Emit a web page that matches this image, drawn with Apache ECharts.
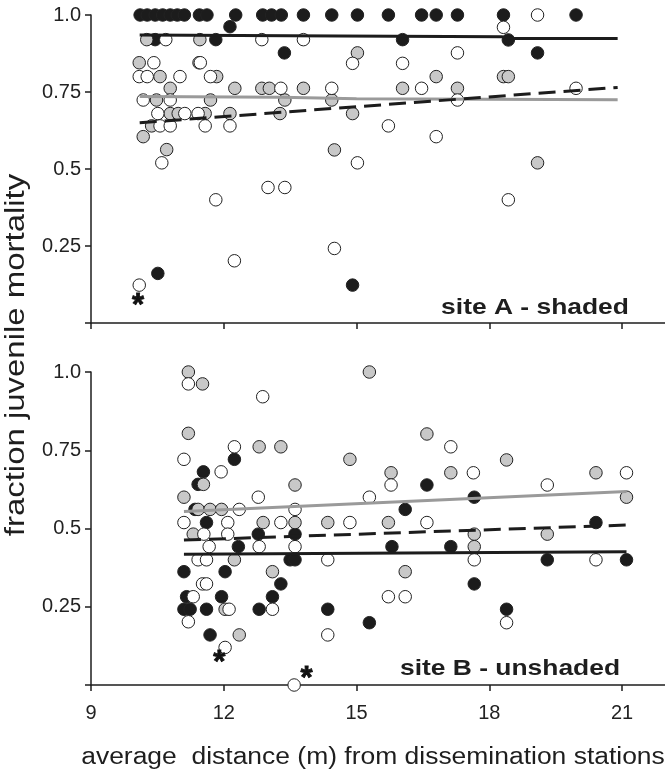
<!DOCTYPE html>
<html><head><meta charset="utf-8">
<script src="https://cdn.jsdelivr.net/npm/echarts@6/dist/echarts.min.js"></script>
<style>html,body{margin:0;padding:0;background:#fff}#c{width:665px;height:773px}</style>
</head><body><div id="c"></div>
<script>
// ---------- data (x = average distance, y = fraction juvenile mortality) ----------
const xTickValues = [9, 12, 15, 18, 21];
const yTickText = {0: '', 0.25: '0.25', 0.5: '0.5', 0.75: '0.75', 1: '1.0'};

// site A (shaded)
const topBlack = [
  [10.11,1],[10.27,1],[10.45,1],[10.62,1],[10.79,1],[10.95,1],[11.11,1],[11.45,1],[11.62,1],
  [12.27,1],[12.88,1],[13.08,1],[13.3,1],[13.8,1],[14.44,1],[15.02,1],[15.72,1],[16.47,1],
  [16.8,1],[17.28,1],[18.32,1],[19.96,1],
  [12.14,0.962],[10.45,0.92],[11.82,0.92],[13.37,0.877],[16.04,0.92],[18.43,0.919],
  [19.09,0.877],[10.51,0.161],[14.91,0.123]
];
const topGray = [
  [10.26,0.92],[11.46,0.92],[10.09,0.845],[11.44,0.845],[10.56,0.80],[11.84,0.80],[10.79,0.762],
  [12.25,0.762],[12.86,0.762],[13.03,0.762],[10.48,0.724],[11.70,0.724],[13.38,0.724],[10.79,0.68],
  [10.97,0.68],[11.58,0.68],[12.14,0.68],[13.27,0.68],[10.37,0.64],[10.18,0.605],[10.71,0.563],
  [15.02,0.877],[16.8,0.80],[13.8,0.762],[16.04,0.762],[17.28,0.762],[14.44,0.724],[14.91,0.68],
  [14.5,0.562],[18.32,0.80],[18.43,0.80],[19.09,0.52]
];
const topOpen = [
  [10.69,0.92],[12.86,0.92],[10.42,0.845],[11.47,0.845],[10.09,0.80],[10.27,0.80],[11.01,0.80],
  [11.70,0.80],[13.29,0.762],[10.18,0.724],[10.79,0.724],[10.51,0.68],[11.12,0.68],[11.42,0.68],
  [10.56,0.64],[10.79,0.64],[11.58,0.64],[12.14,0.64],[10.6,0.52],[13.8,0.92],[14.91,0.843],
  [16.04,0.843],[17.28,0.877],[14.44,0.762],[16.47,0.762],[17.28,0.724],[15.72,0.64],[16.8,0.605],
  [15.02,0.52],[18.32,0.96],[19.09,1.0],[19.96,0.762],[11.82,0.40],[13.0,0.44],[13.38,0.44],
  [12.24,0.202],[14.5,0.242],[10.09,0.123],[18.43,0.40]
];
const topBlackFit = [[10.1,0.935],[14.6,0.932],[18.3,0.929],[18.5,0.924],[20.9,0.924]];
const topGrayFit  = [[10.1,0.735],[13.3,0.733],[15.0,0.728],[20.9,0.725]];
const topOpenFit  = [[10.1,0.650],[20.9,0.765]];
const topStars    = [[10.06,0.075]];

// site B (unshaded)
const botBlack = [
  [12.24,0.721],[11.54,0.681],[11.42,0.641],[11.35,0.561],[11.61,0.519],[16.59,0.639],[17.66,0.60],
  [16.1,0.561],[20.41,0.519],[12.78,0.482],[12.33,0.442],[13.5,0.40],[11.1,0.362],[12.03,0.362],
  [13.29,0.323],[11.16,0.282],[11.95,0.282],[13.1,0.282],[11.1,0.242],[11.24,0.242],[11.61,0.242],
  [12.8,0.242],[11.69,0.16],[13.61,0.482],[15.8,0.442],[17.13,0.442],[13.61,0.40],[19.31,0.40],
  [21.1,0.40],[17.66,0.323],[14.35,0.242],[18.39,0.242],[15.29,0.199]
];
const botGray = [
  [11.2,1.0],[11.52,0.962],[11.2,0.804],[12.8,0.761],[13.29,0.761],[11.54,0.641],[11.1,0.60],
  [11.42,0.561],[11.69,0.561],[11.95,0.561],[12.89,0.519],[15.29,1.0],[16.59,0.802],[14.85,0.721],
  [15.78,0.678],[17.13,0.678],[13.61,0.639],[13.61,0.519],[14.35,0.519],[15.72,0.519],[18.39,0.719],
  [20.41,0.678],[21.1,0.60],[11.31,0.482],[12.24,0.40],[13.1,0.362],[12.03,0.242],[12.35,0.16],
  [17.66,0.482],[19.31,0.482],[17.66,0.442],[16.1,0.362]
];
const botOpen = [
  [11.2,0.962],[12.88,0.921],[12.24,0.761],[11.1,0.721],[11.94,0.681],[12.78,0.60],[12.35,0.561],
  [11.1,0.519],[12.09,0.519],[13.29,0.519],[17.13,0.761],[17.64,0.678],[15.78,0.639],[15.29,0.60],
  [13.61,0.561],[14.85,0.519],[16.59,0.519],[19.31,0.639],[21.1,0.678],[11.55,0.482],[12.09,0.482],
  [11.67,0.442],[12.8,0.442],[11.42,0.40],[11.61,0.40],[11.52,0.323],[11.61,0.323],[11.31,0.282],
  [12.12,0.242],[13.1,0.242],[11.2,0.202],[12.03,0.12],[13.61,0.442],[14.35,0.40],[17.66,0.40],
  [20.41,0.40],[15.72,0.282],[16.1,0.282],[18.39,0.199],[14.35,0.16],[13.59,0.0]
];
const botBlackFit = [[11.1,0.418],[21.1,0.426]];
const botGrayFit  = [[11.1,0.554],[21.1,0.618]];
const botOpenFit  = [[11.1,0.463],[21.1,0.511]];
const botStars    = [[11.9,0.09],[13.87,0.039]];

const panelTitles = ['site A - shaded', 'site B - unshaded'];
const xName = 'average  distance (m) from dissemination stations';
const yName = 'fraction juvenile mortality';

// ---------- chart ----------
const FONT = "'Liberation Sans', Arial, Helvetica, sans-serif";
const AX = '#1e1e1e';
const chart = echarts.init(document.getElementById('c'), null, {renderer: 'canvas'});

function xAxisCfg(gi, showLabels) {
  return {
    type: 'value', gridIndex: gi, min: 9, max: 21.97, interval: 3,
    axisLine: {onZero: false, lineStyle: {color: AX, width: 1.5}},
    axisTick: {show: true, length: 6, inside: false, lineStyle: {color: AX, width: 1.5},
      customValues: xTickValues},
    axisLabel: {show: showLabels, color: '#222', fontSize: 20, fontFamily: FONT, margin: 18,
      customValues: xTickValues, formatter: v => String(v)},
    splitLine: {show: false}
  };
}
function yAxisCfg(gi) {
  return {
    type: 'value', gridIndex: gi, min: 0, max: 1, interval: 0.25,
    axisLine: {onZero: false, lineStyle: {color: AX, width: 1.5}},
    axisTick: {show: true, length: 6, inside: false, lineStyle: {color: AX, width: 1.5}},
    axisLabel: {color: '#222', fontSize: 20, fontFamily: FONT, margin: 10,
      formatter: v => (yTickText[v] !== undefined ? yTickText[v] : '')},
    splitLine: {show: false}
  };
}
function dots(data, gi, fill, z) {
  return {
    type: 'scatter', xAxisIndex: gi, yAxisIndex: gi, data: data, symbol: 'circle', symbolSize: 12.5,
    clip: false, z: z, silent: true,
    itemStyle: {color: fill, borderColor: '#222', borderWidth: 1, opacity: 1}
  };
}
function fit(data, gi, color, dashed) {
  return {
    type: 'line', xAxisIndex: gi, yAxisIndex: gi, data: data, showSymbol: false, symbol: 'none',
    smooth: false, z: 10, silent: true,
    lineStyle: {color: color, width: 3, type: dashed ? [17, 8] : 'solid', cap: 'butt'}
  };
}
function stars(data, gi) {
  return {
    type: 'scatter', xAxisIndex: gi, yAxisIndex: gi, data: data, symbol: 'circle', symbolSize: 2,
    clip: false, z: 11, silent: true,
    itemStyle: {color: 'rgba(255,255,255,0)', borderWidth: 0},
    label: {show: true, position: 'inside', formatter: '*', color: '#111', fontSize: 31,
      fontWeight: 'bold', fontFamily: FONT, offset: [0, 7], opacity: 1,
      textBorderColor: '#111', textBorderWidth: 0.8}
  };
}
function txt(text, x, y, opts) {
  return Object.assign({
    type: 'text', x: x, y: y, z: 100, silent: true,
    style: {text: text, font: opts.font, fill: '#1e1e1e',
      align: 'center', verticalAlign: 'middle', textAlign: 'center', textVerticalAlign: 'middle'}
  }, opts.extra || {});
}

const option = {
  animation: false,
  backgroundColor: '#fff',
  grid: [
    {left: 91, top: 15, width: 574, height: 308, containLabel: false},
    {left: 91, top: 372, width: 574, height: 313, containLabel: false}
  ],
  xAxis: [xAxisCfg(0, false), xAxisCfg(1, true)],
  yAxis: [yAxisCfg(0), yAxisCfg(1)],
  series: [
    dots(topBlack, 0, '#1c1c1c', 2), dots(topGray, 0, '#c8c8c8', 3), dots(topOpen, 0, '#ffffff', 4),
    fit(topBlackFit, 0, '#1c1c1c', false), fit(topGrayFit, 0, '#9a9a9a', false), fit(topOpenFit, 0, '#1c1c1c', true),
    stars(topStars, 0),
    dots(botBlack, 1, '#1c1c1c', 2), dots(botGray, 1, '#c8c8c8', 3), dots(botOpen, 1, '#ffffff', 4),
    fit(botBlackFit, 1, '#1c1c1c', false), fit(botGrayFit, 1, '#9a9a9a', false), fit(botOpenFit, 1, '#1c1c1c', true),
    stars(botStars, 1)
  ],
  graphic: [
    txt(panelTitles[0], 535, 308, {font: "bold 22px " + FONT, extra: {scaleX: 1.2}}),
    txt(panelTitles[1], 510, 669, {font: "bold 22px " + FONT, extra: {scaleX: 1.2}}),
    txt(xName, 373, 758, {font: "23px " + FONT, extra: {scaleX: 1.15}}),
    txt(yName, 17, 355, {font: "27px " + FONT, extra: {rotation: Math.PI / 2, scaleX: 1.22}})
  ]
};
chart.setOption(option);
</script>
</body></html>
